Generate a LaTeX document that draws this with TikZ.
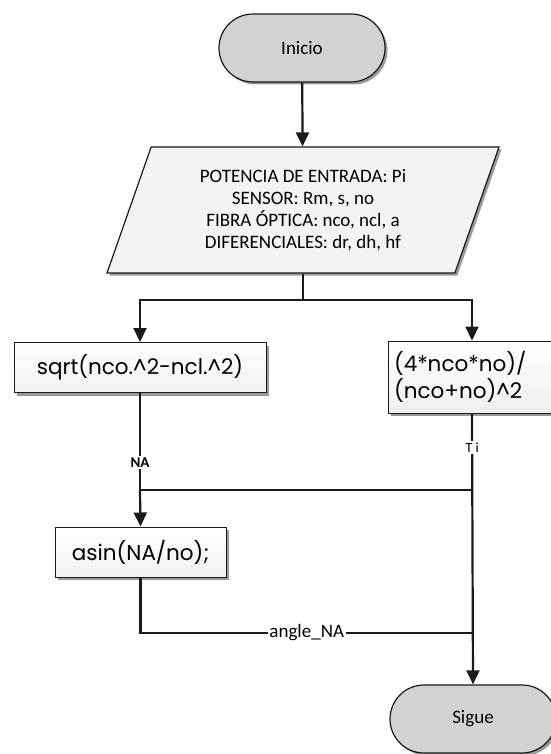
\documentclass[tikz,border=0pt]{standalone}
\usepackage{fontspec}
\setmainfont{Carlito}
\newfontfamily\procfont{Poppins}
\usepackage{tikz}
\usetikzlibrary{shapes.geometric, arrows.meta, positioning, shadows, calc}
\definecolor{termgray}{HTML}{D2D2D2}
\definecolor{inputgray}{HTML}{F3F3F3}
\definecolor{linegray}{HTML}{1A1A1A}

\begin{document}
\begin{tikzpicture}[
  x=1pt, y=-1pt,
  term/.style={rectangle, draw=linegray, line width=1.2pt, rounded corners=34pt, fill=termgray,
    minimum width=166pt, minimum height=68pt, font=\fontsize{19}{22}\selectfont,
    drop shadow={shadow xshift=2.5pt, shadow yshift=-2.5pt, fill=black!80}},
  iobox/.style={trapezium, trapezium left angle=63.4, trapezium right angle=116.6,
    trapezium stretches body, draw=linegray, line width=1.2pt, fill=inputgray,
    minimum width=392pt, minimum height=126pt, align=center,
    font=\fontsize{19}{22}\selectfont,
    drop shadow={shadow xshift=2.5pt, shadow yshift=-2.5pt, fill=black!80}},
  proc/.style={rectangle, draw=linegray, line width=1pt, top color=white, bottom color=gray!12,
    minimum height=50pt, font=\procfont\fontsize{21.5}{27}\selectfont,
    drop shadow={shadow xshift=3pt, shadow yshift=-3pt, fill=black!80}},
  line/.style={line width=2.2pt, draw=linegray},
  arr/.style={line, -{Triangle[length=14pt, width=13pt]}},
  lbl/.style={fill=white, inner sep=1.5pt, font=\fontsize{19}{20}\selectfont},
]
\useasboundingbox (0,0) rectangle (550,754);

% Start and data input
\node[term] (start) at (302,48) {Inicio};
\node[iobox] (input) at (303,210) {POTENCIA DE ENTRADA: Pi\\SENSOR: Rm, s, no\\FIBRA ÓPTICA: nco, ncl, a\\DIFERENCIALES: dr, dh, hf};

% Two calculations side by side
\node[proc, minimum width=252pt] (sqrtbox) at (140,367.5) {sqrt(nco.\^{}2-ncl.\^{}2)};
\node[proc, text width=156pt, inner xsep=6pt, minimum height=72pt, align=left] (ratiobox) at (472,377) {(4*nco*no)/\\(nco+no)\^{}2};

% Angle and end
\node[proc, minimum width=171pt] (asinbox) at (140.5,552) {asin(NA/no);};
\node[term] (sigue) at (473,719) {Sigue};

% Arrows
\draw[arr] (start) -- (input);
\draw[line] (input.south) -- ++(0,26) coordinate (split);
\draw[arr] (split) -| (sqrtbox.north);
\draw[arr] (split) -| (ratiobox.north);

% NA joins the Ti line, then feeds asin
\draw[line] (sqrtbox.south) -- node[lbl, pos=0.72, font=\bfseries\fontsize{15}{16}\selectfont]{NA} ++(0,97) coordinate (merge);
\draw[line] (merge) -- (merge -| ratiobox.south);
\draw[arr] (merge) -- (asinbox.north);
\draw[arr] (ratiobox.south) -- node[lbl, pos=0.125, font=\fontsize{14}{16}\selectfont]{T i} (sigue.north);

% angle_NA back to the right line
\draw[line] (asinbox.south) |- node[lbl, pos=0.75]{angle\_NA} (sigue.north |- 0,633);
\end{tikzpicture}
\end{document}
